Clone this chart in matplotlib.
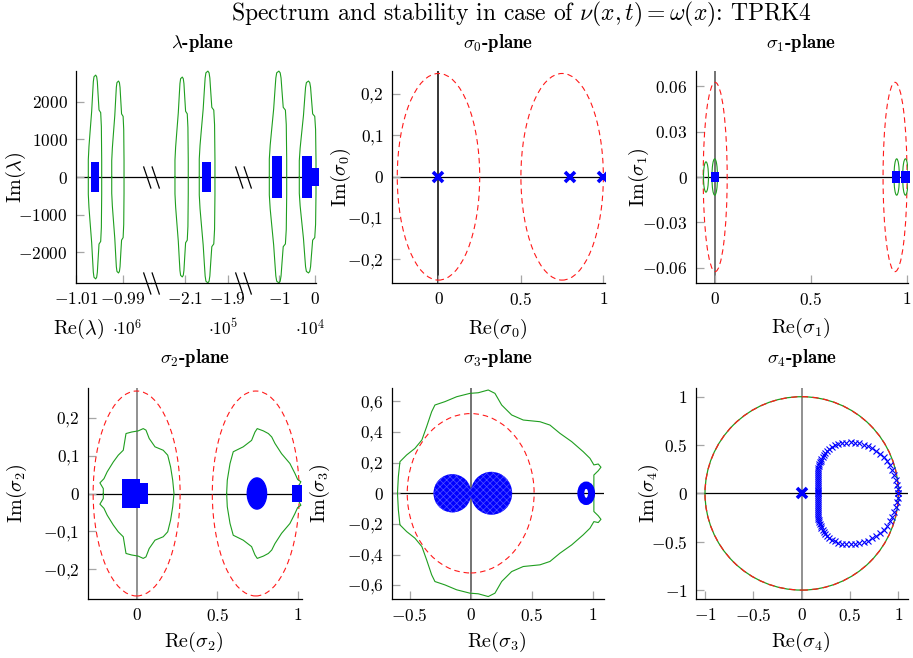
import numpy as np
import matplotlib
matplotlib.use("Agg")
import matplotlib.pyplot as plt
from matplotlib.patches import Ellipse, Polygon
from matplotlib.path import Path

plt.rcParams["font.family"] = "serif"
plt.rcParams["font.serif"] = ["cmr10"]
plt.rcParams["mathtext.fontset"] = "cm"
plt.rcParams["axes.formatter.use_mathtext"] = True
plt.rcParams["hatch.linewidth"] = 0.5

BLUE = "#0000ff"
GREEN = "#1f9e1f"
RED = "#ff1a1a"
DASH = (0, (5, 3.5))

# ---------------- lambda-plane (broken Re axis, 3 pieces) ----------------
lam_lens_x = [-1.00197e6, -0.9923e6, -2.1156e5, -1.997e5, -1.0275e4, -0.204e4]
lam_lens_hw = [2830, 2600, 3090, 3650, 2415, 2320]
lam_lens_top = [2706, 2548, 2654, 2812, 2812, 2548]
lam_lens_seg = [0, 0, 1, 1, 2, 2]
# shared outline of the lens shaped stability boundaries (upper half, normalised)
lens_dx = [-1.0, -1.0, -0.9, -0.75, -0.5, -0.35, -0.25, -0.15, 0.1,
           0.25, 0.35, 0.45, 0.6, 0.85, 0.95, 1.0, 1.0]
lens_dy = [0.0, 0.169, 0.3, 0.43, 0.642, 0.821, 0.935, 0.984, 1.0,
           0.984, 0.935, 0.821, 0.658, 0.632, 0.495, 0.169, 0.0]

lam_blue_x = [-1.00203e6, -2.0014e5, -1.06e4, -0.2225e4, 0.0135e4]
lam_blue_hw = [1755, 2090, 1345, 1305, 1055]
lam_blue_h = [386, 400, 563, 560, 238]
lam_blue_seg = [0, 1, 2, 2, 2]

seg_lims = [(-1.01e6, -0.9783e6), (-2.258e5, -1.830e5), (-2.0e4, 0.028e4)]
seg_ticks = [[-1.01e6, -0.99e6], [-2.1e5, -1.9e5], [-1e4, 0]]
seg_ticklabels = [[r"$-1.01$", r"$-0.99$"], [r"$-2.1$", r"$-1.9$"], [r"$-1$", r"$0$"]]
seg_mult = [r"$\cdot 10^{6}$", r"$\cdot 10^{5}$", r"$\cdot 10^{4}$"]
lam_yticks = [-2000, -1000, 0, 1000, 2000]

# ---------------- sigma_0 ----------------
s0_red_c = [0.0, 0.75]
s0_red_r = [0.25, 0.25]
s0_eig_x = [0.0, 0.8, 1.0]
s0_eig_y = [0.0, 0.0, 0.0]

# ---------------- sigma_1 ----------------
s1_red_c = [0.0, 0.9375]
s1_red_r = [0.0625, 0.0625]
s1_green_c = [-0.048, -0.0025, 0.946, 0.9915]
s1_green_w = [0.026, 0.029, 0.028, 0.029]
s1_green_h = [0.020, 0.024, 0.024, 0.024]
s1_blue_c = [0.0, 0.944, 0.9925]
s1_blue_hw = [0.022, 0.020, 0.0225]
s1_blue_h = [0.0034, 0.0039, 0.0039]

# ---------------- sigma_2 ----------------
s2_red_c = [0.0, 0.74]
s2_red_r = [0.27, 0.27]
s2_green1_x = [-0.207, -0.207, -0.228, -0.203, -0.183, -0.145, -0.114, -0.083, -0.073,
               -0.066, -0.031, 0.01, 0.041, 0.058, 0.078, 0.114, 0.165, 0.193, 0.211,
               0.224, 0.232]
s2_green1_y = [0.0, 0.013, 0.028, 0.039, 0.057, 0.083, 0.101, 0.114, 0.140, 0.158,
               0.162, 0.165, 0.171, 0.167, 0.145, 0.123, 0.114, 0.101, 0.07, 0.035, 0.0]
s2_green2_x = [0.559, 0.563, 0.58, 0.6, 0.662, 0.714, 0.735, 0.749, 0.787, 0.818, 0.839,
               0.859, 0.9, 0.952, 0.983, 1.0, 1.02, 1.004, 1.0]
s2_green2_y = [0.0, 0.035, 0.079, 0.11, 0.123, 0.14, 0.162, 0.171, 0.165, 0.158, 0.149,
               0.132, 0.105, 0.079, 0.053, 0.037, 0.031, 0.018, 0.0]
s2_blue_rect_c = [-0.0365, 0.036, 0.994]
s2_blue_rect_hw = [0.0565, 0.036, 0.031]
s2_blue_rect_h = [0.037, 0.028, 0.022]
s2_blue_oval_c = [0.747]
s2_blue_oval_hw = [0.06]
s2_blue_oval_h = [0.041]

# ---------------- sigma_3 ----------------
s3_red_c = [0.0, 0.95]
s3_red_r = [0.52, 0.065]
s3_green_x = [-0.60, -0.593, -0.58, -0.525, -0.457, -0.40, -0.361, -0.32, -0.293, -0.211,
              -0.115, -0.006, 0.062, 0.144, 0.199, 0.254, 0.336, 0.431, 0.568, 0.65,
              0.732, 0.828, 0.923, 0.978, 1.01, 1.046, 1.068, 1.046, 1.01, 1.01]
s3_green_y = [0.0, 0.108, 0.206, 0.25, 0.293, 0.348, 0.435, 0.532, 0.576, 0.598,
              0.63, 0.652, 0.656, 0.674, 0.652, 0.576, 0.511, 0.478, 0.467, 0.445,
              0.391, 0.337, 0.271, 0.228, 0.185, 0.191, 0.17, 0.147, 0.119, 0.0]
s3_lobe_c = [-0.15, 0.17]
s3_lobe_w = [0.31, 0.34]
s3_lobe_h = [0.25, 0.28]
s3_ring_c = 0.947
s3_ring_w = 0.088
s3_ring_h = 0.108

# ---------------- sigma_4 ----------------
s4_x = [0.172, 0.170, 0.168, 0.167, 0.166, 0.165, 0.165, 0.165, 0.165, 0.165, 0.166,
        0.167, 0.169, 0.172, 0.176, 0.181, 0.187, 0.195, 0.204, 0.215, 0.228, 0.243,
        0.262, 0.284, 0.310, 0.342, 0.378, 0.418, 0.46, 0.505, 0.55, 0.595, 0.64,
        0.685, 0.728, 0.77, 0.81, 0.848, 0.882, 0.912, 0.937, 0.958, 0.975, 0.988,
        0.996, 1.0]
s4_y = [0.0, 0.02, 0.04, 0.06, 0.08, 0.10, 0.12, 0.14, 0.16, 0.18, 0.20, 0.22, 0.24,
        0.26, 0.28, 0.30, 0.32, 0.34, 0.36, 0.38, 0.40, 0.42, 0.44, 0.46, 0.48, 0.497,
        0.510, 0.520, 0.526, 0.528, 0.525, 0.517, 0.505, 0.488, 0.466, 0.44, 0.41,
        0.375, 0.335, 0.29, 0.24, 0.19, 0.14, 0.09, 0.045, 0.0]


def mirror(xs, ys):
    # upper half + conjugate half -> closed curve
    return list(xs) + list(xs[::-1]), list(ys) + [-v for v in ys[::-1]]


W, H = 913, 658
fig = plt.figure(figsize=(W / 100, H / 100), dpi=100)

TICK_FS = 12.5
LAB_FS = 14.5
TITLE_FS = 13.5


def box(l, t, r, b):
    return [l / W, 1 - b / H, (r - l) / W, (b - t) / H]


def style(ax):
    for s in ("top", "right"):
        ax.spines[s].set_visible(False)
    for s in ("left", "bottom"):
        ax.spines[s].set_linewidth(0.9)
    ax.tick_params(direction="in", length=5.5, width=0.9, color="0.65",
                   labelsize=TICK_FS, pad=6)


def ftext(x, y, s, **kw):
    fig.text(x / W, 1 - y / H, s, ha="center", va="center", **kw)


def red_circles(ax, cs, rs):
    for c, r in zip(cs, rs):
        ax.add_patch(Ellipse((c, 0), 2 * r, 2 * r, fill=False, ec=RED, ls=DASH,
                             lw=0.8, zorder=2))


def zero_lines(ax, vcol="0.3"):
    ax.axhline(0, color="k", lw=0.9, zorder=1.5)
    ax.axvline(0, color=vcol, lw=1.1, zorder=1.5)


def comma(v):
    return "$%s$" % ("%g" % v).replace(".", "{,}")


# ---- lambda plane ----
seg_px = [(76, 151), (151, 243), (243, 316)]
seg_axes = []
for k, (l, r) in enumerate(seg_px):
    ax = fig.add_axes(box(l, 71, r, 283))
    style(ax)
    ax.set_xlim(*seg_lims[k])
    ax.set_ylim(-2815, 2815)
    ax.axhline(0, color="k", lw=0.9, zorder=1.5)
    ax.set_xticks(seg_ticks[k])
    ax.set_xticklabels(seg_ticklabels[k])
    if k == 0:
        ax.set_yticks(lam_yticks)
        ax.set_yticklabels(["$%d$" % v for v in lam_yticks])
    else:
        ax.spines["left"].set_visible(False)
        ax.set_yticks([])
    ax.patch.set_alpha(0)
    seg_axes.append(ax)

for cx, hw, top, sg in zip(lam_lens_x, lam_lens_hw, lam_lens_top, lam_lens_seg):
    xs = [cx + d * hw for d in lens_dx]
    ys = [d * top for d in lens_dy]
    xx, yy = mirror(xs, ys)
    seg_axes[sg].plot(xx, yy, color=GREEN, lw=0.8, zorder=2, clip_on=False)

for cx, hw, h, sg in zip(lam_blue_x, lam_blue_hw, lam_blue_h, lam_blue_seg):
    seg_axes[sg].bar(cx, 2 * h, width=2 * hw, bottom=-h, color=BLUE, zorder=3,
                     clip_on=False)

brk = Path([(-0.72, 1), (-0.04, -1), (0.04, 1), (0.72, -1)],
           [Path.MOVETO, Path.LINETO, Path.MOVETO, Path.LINETO])
for ax in seg_axes[:2]:
    ax.plot([1, 1], [0.5, 0.0], transform=ax.transAxes, marker=brk, ms=16,
            ls="none", mec="k", mew=0.9, clip_on=False, zorder=5)

ftext(16, 177, r"Im$(\lambda)$", rotation=90, fontsize=LAB_FS)
ftext(79, 329, r"Re$(\lambda)$", fontsize=LAB_FS)
for px, s in zip([127, 223, 310], seg_mult):
    ftext(px, 328, s, fontsize=TICK_FS)

# ---- sigma_0 ----
ax = fig.add_axes(box(392, 71, 605, 283))
style(ax)
ax.set_xlim(-0.282, 1.01)
ax.set_ylim(-0.257, 0.256)
zero_lines(ax, "k")
red_circles(ax, s0_red_c, s0_red_r)
ax.plot(s0_eig_x, s0_eig_y, "x", color=BLUE, ms=6.5, mew=2.6, zorder=4)
ax.set_xticks([0, 0.5, 1])
ax.set_xticklabels(["$0$", "$0.5$", "$1$"])
ax.set_yticks([-0.2, -0.1, 0, 0.1, 0.2])
ax.set_yticklabels([comma(v) for v in [-0.2, -0.1, 0, 0.1, 0.2]])
ftext(341, 177, r"Im$(\sigma_0)$", rotation=90, fontsize=LAB_FS)
ftext(498, 329, r"Re$(\sigma_0)$", fontsize=LAB_FS)

# ---- sigma_1 ----
ax = fig.add_axes(box(696, 71, 908, 283))
style(ax)
ax.set_xlim(-0.1, 1.005)
ax.set_ylim(-0.07, 0.07)
zero_lines(ax)
red_circles(ax, s1_red_c, s1_red_r)
for c, w, h in zip(s1_green_c, s1_green_w, s1_green_h):
    ax.add_patch(Ellipse((c, 0), w, h, fill=False, ec=GREEN, lw=0.8, zorder=2))
ax.bar(s1_blue_c, [2 * h for h in s1_blue_h], width=[2 * w for w in s1_blue_hw],
       bottom=[-h for h in s1_blue_h], color=BLUE, zorder=3, clip_on=False)
ax.set_xticks([0, 0.5, 1])
ax.set_xticklabels(["$0$", "$0.5$", "$1$"])
ax.set_yticks([-0.06, -0.03, 0, 0.03, 0.06])
ax.set_yticklabels(["$-0.06$", "$-0.03$", "$0$", "$0.03$", "$0.06$"])
ftext(639, 177, r"Im$(\sigma_1)$", rotation=90, fontsize=LAB_FS)
ftext(801, 328, r"Re$(\sigma_1)$", fontsize=LAB_FS)

# ---- sigma_2 ----
ax = fig.add_axes(box(88, 388, 302, 599))
style(ax)
ax.set_xlim(-0.302, 1.027)
ax.set_ylim(-0.278, 0.278)
zero_lines(ax, "0.45")
red_circles(ax, s2_red_c, s2_red_r)
for gx, gy in [(s2_green1_x, s2_green1_y), (s2_green2_x, s2_green2_y)]:
    xx, yy = mirror(gx, gy)
    ax.plot(xx, yy, color=GREEN, lw=0.8, zorder=2)
ax.bar(s2_blue_rect_c, [2 * h for h in s2_blue_rect_h],
       width=[2 * w for w in s2_blue_rect_hw], bottom=[-h for h in s2_blue_rect_h],
       color=BLUE, zorder=3)
for c, w, h in zip(s2_blue_oval_c, s2_blue_oval_hw, s2_blue_oval_h):
    ax.add_patch(Ellipse((c, 0), 2 * w, 2 * h, color=BLUE, zorder=3))
ax.set_xticks([0, 0.5, 1])
ax.set_xticklabels(["$0$", "$0.5$", "$1$"])
ax.set_yticks([-0.2, -0.1, 0, 0.1, 0.2])
ax.set_yticklabels([comma(v) for v in [-0.2, -0.1, 0, 0.1, 0.2]])
ftext(17, 493, r"Im$(\sigma_2)$", rotation=90, fontsize=LAB_FS)
ftext(194, 642, r"Re$(\sigma_2)$", fontsize=LAB_FS)

# ---- sigma_3 ----
ax = fig.add_axes(box(392, 388, 604, 599))
style(ax)
ax.set_xlim(-0.645, 1.093)
ax.set_ylim(-0.69, 0.687)
zero_lines(ax)
red_circles(ax, s3_red_c, s3_red_r)
xx, yy = mirror(s3_green_x, s3_green_y)
ax.plot(xx, yy, color=GREEN, lw=0.8, zorder=2)
for c, w, h in zip(s3_lobe_c, s3_lobe_w, s3_lobe_h):
    ax.add_patch(Ellipse((c, 0), w, h, fc=BLUE, ec="#5050ff", hatch="xxxxx",
                         lw=0, zorder=3))
ax.add_patch(Ellipse((s3_ring_c, 0), s3_ring_w, s3_ring_h, fill=False, ec=BLUE,
                     lw=5, zorder=3))
ax.set_xticks([-0.5, 0, 0.5, 1])
ax.set_xticklabels(["$-0.5$", "$0$", "$0.5$", "$1$"])
s3_yt = [-0.6, -0.4, -0.2, 0, 0.2, 0.4, 0.6]
ax.set_yticks(s3_yt)
ax.set_yticklabels([comma(v) for v in s3_yt])
ftext(320, 493, r"Im$(\sigma_3)$", rotation=90, fontsize=LAB_FS)
ftext(497, 642, r"Re$(\sigma_3)$", fontsize=LAB_FS)

# ---- sigma_4 ----
ax = fig.add_axes(box(696, 388, 908, 599))
style(ax)
ax.set_xlim(-1.093, 1.099)
ax.set_ylim(-1.092, 1.09)
zero_lines(ax, "0.45")
ax.add_patch(Ellipse((0, 0), 2, 2, fill=False, ec=GREEN, lw=0.9, zorder=2))
ax.add_patch(Ellipse((0, 0), 2, 2, fill=False, ec=RED, ls=DASH, lw=0.9, zorder=2.1))
xx, yy = mirror(s4_x, s4_y)
ax.plot(xx, yy, "x", color=BLUE, ms=4, mew=0.8, zorder=4)
ax.plot([0], [0], "x", color=BLUE, ms=6.5, mew=2.6, zorder=4)
t4 = [-1, -0.5, 0, 0.5, 1]
ax.set_xticks(t4)
ax.set_xticklabels(["$%g$" % v for v in t4])
ax.set_yticks(t4)
ax.set_yticklabels(["$%g$" % v for v in t4])
ftext(649, 493, r"Im$(\sigma_4)$", rotation=90, fontsize=LAB_FS)
ftext(801, 642, r"Re$(\sigma_4)$", fontsize=LAB_FS)

# ---- titles ----
ftext(521, 14, r"Spectrum and stability in case of $\nu(x,t) = \omega(x)$: TPRK4",
      fontsize=17)
for (px, py), s in zip([(202, 43), (498, 43), (801, 43), (195, 358), (498, 358), (802, 358)],
                       [r"$\lambda$-plane", r"$\sigma_\mathbf{0}$-plane",
                        r"$\sigma_\mathbf{1}$-plane", r"$\sigma_\mathbf{2}$-plane",
                        r"$\sigma_\mathbf{3}$-plane", r"$\sigma_\mathbf{4}$-plane"]):
    ftext(px, py, s, fontsize=TITLE_FS, fontfamily="cmb10")

fig.savefig("out.png", dpi=100)
